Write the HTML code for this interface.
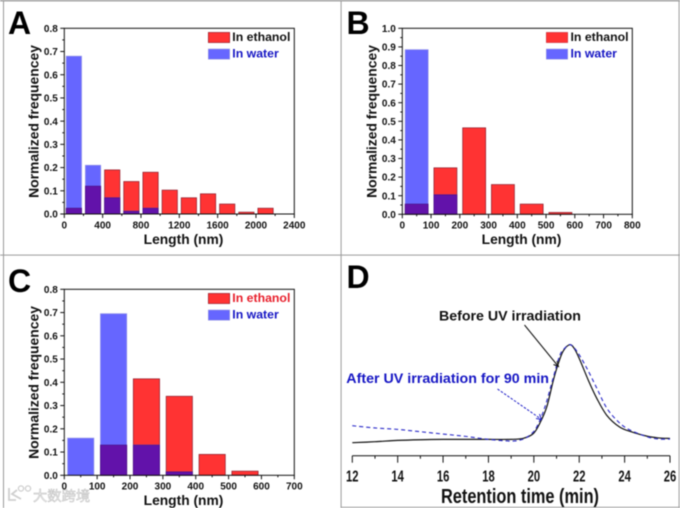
<!DOCTYPE html>
<html lang="en">
<head>
<meta charset="utf-8">
<title>Length distributions and retention time chart</title>
<style>
html,body{margin:0;padding:0;background:#fff;width:680px;height:508px;overflow:hidden}
svg{display:block;filter:blur(.4px)}
text{font-family:"Liberation Sans","Noto Sans CJK SC",sans-serif;font-weight:bold;fill:#111}
</style>
</head>
<body>
<svg id="figure" xmlns="http://www.w3.org/2000/svg" width="680" height="508" viewBox="0 0 680 508">
  <rect width="680" height="508" fill="#fff"/>
  <g fill="#9a9a9a">
    <rect x="0" y="0" width="680" height="1.4"/>
    <rect x="3" y="0" width="1" height="508"/>
    <rect x="340.6" y="0" width="1" height="508"/>
    <rect x="678.6" y="0" width="1" height="508"/>
    <rect x="0" y="254.6" width="680" height="1"/>
    <rect x="341" y="506.8" width="339" height="1"/>
  </g>

  <text x="8" y="34" font-size="32" style="fill:#000">A</text>
  <text x="346.5" y="34" font-size="32" style="fill:#000">B</text>
  <text x="8" y="292" font-size="32" style="fill:#000">C</text>
  <text x="346.5" y="288" font-size="32" style="fill:#000">D</text>

  <g>
    <circle cx="21" cy="488.5" r="2.6" fill="none" stroke="#cfcfcf" stroke-width="1.3"/>
    <circle cx="28" cy="488.5" r="2.6" fill="none" stroke="#cfcfcf" stroke-width="1.3"/>
    <path d="M9 488V500H16M17 490L12 494L21 499" fill="none" stroke="#cfcfcf" stroke-width="1.8"/>
    <text x="33" y="501" font-size="14.3" style="fill:#ececec;font-weight:normal;stroke:#bdbdbd;stroke-width:.45">大数跨境</text>
  </g>

  <g id="panel-a"></g>
  <g id="panel-b"></g>
  <g id="panel-c"></g>
  <g id="panel-d"></g>

  <g>
    <text x="183.5" y="244" font-size="13.8" text-anchor="middle">Length (nm)</text>
    <text transform="translate(38.5,121.5) rotate(-90)" font-size="13.9" text-anchor="middle">Normalized frequencey</text>
    <rect x="208.3" y="32.4" width="21.4" height="10.2" fill="#ff3333" stroke="#8a2030" stroke-width=".6"/>
    <rect x="208.3" y="49" width="21.4" height="10.2" fill="#6666ff" stroke="#9a9ae0" stroke-width=".6"/>
    <text x="232.3" y="41" font-size="12.3">In ethanol</text>
    <text x="232.3" y="57.4" font-size="12.3" style="fill:#1616c4">In water</text>
  </g>

  <g>
    <text x="521.5" y="244" font-size="13.8" text-anchor="middle">Length (nm)</text>
    <text transform="translate(376.5,121.5) rotate(-90)" font-size="13.9" text-anchor="middle">Normalized frequencey</text>
    <rect x="546.3" y="32.4" width="21.4" height="10.2" fill="#ff3333" stroke="#c03040" stroke-width=".5"/>
    <rect x="546.3" y="49" width="21.4" height="10.2" fill="#6666ff" stroke="#9a9ae0" stroke-width=".5"/>
    <text x="570.5" y="41" font-size="12.3">In ethanol</text>
    <text x="570.5" y="57.4" font-size="12.3" style="fill:#1616c4">In water</text>
  </g>

  <g>
    <text x="183.5" y="505" font-size="13.8" text-anchor="middle">Length (nm)</text>
    <text transform="translate(38.5,382.5) rotate(-90)" font-size="13.9" text-anchor="middle">Normalized frequencey</text>
    <rect x="208.3" y="293.4" width="21.4" height="10.2" fill="#ff3333" stroke="#8a2030" stroke-width=".6"/>
    <rect x="208.3" y="310" width="21.4" height="10.2" fill="#6666ff" stroke="#9a9ae0" stroke-width=".6"/>
    <text x="232.3" y="302" font-size="12.3" style="fill:#e8202c">In ethanol</text>
    <text x="232.3" y="318.4" font-size="12.3" style="fill:#1616c4">In water</text>
  </g>

  <g>
    <text x="439" y="320.7" font-size="14.2">Before UV irradiation</text>
    <text x="346.3" y="383.2" font-size="14.25" style="fill:#1616c4">After UV irradiation for 90 min</text>
    <line x1="524.5" y1="325" x2="558" y2="366" stroke="#111" stroke-width="1"/>
    <path d="M553.5 364.5L558.5 366.5L557 361" fill="none" stroke="#111" stroke-width="1"/>
    <line x1="497.5" y1="389" x2="541" y2="419" stroke="#2020c8" stroke-width="1" stroke-dasharray="2.5 1.5"/>
    <path d="M536 418.5L541.5 419.5L539.5 414" fill="none" stroke="#2020c8" stroke-width="1"/>
    <text x="441" y="503" font-size="20" textLength="158" lengthAdjust="spacingAndGlyphs">Retention time (min)</text>
  </g>
</svg>

<script>
// Panel A values
const panelACategories = [100, 300, 500, 700, 900, 1100, 1300, 1500, 1700, 1900, 2100];
const panelAEthanol = [0.025, 0.12, 0.19, 0.14, 0.18, 0.103, 0.07, 0.087, 0.043, 0.008, 0.025];
const panelAWater = [0.68, 0.21, 0.07, 0.012, 0.025, 0, 0, 0, 0, 0, 0];
const panelAXTicks = [0, 400, 800, 1200, 1600, 2000, 2400];
const panelAYTicks = [0, 0.1, 0.2, 0.3, 0.4, 0.5, 0.6, 0.7, 0.8];

// Panel B values
const panelBCategories = [50, 150, 250, 350, 450, 550];
const panelBEthanol = [0.055, 0.25, 0.465, 0.16, 0.055, 0.01];
const panelBWater = [0.885, 0.105, 0, 0, 0, 0];
const panelBXTicks = [0, 100, 200, 300, 400, 500, 600, 700, 800];
const panelBYTicks = [0, 0.1, 0.2, 0.3, 0.4, 0.5, 0.6, 0.7, 0.8, 0.9, 1.0];

// Panel C values
const panelCCategories = [50, 150, 250, 350, 450, 550];
const panelCEthanol = [0, 0.13, 0.415, 0.34, 0.09, 0.018];
const panelCWater = [0.16, 0.695, 0.13, 0.015, 0, 0];
const panelCXTicks = [0, 100, 200, 300, 400, 500, 600, 700];
const panelCYTicks = [0, 0.1, 0.2, 0.3, 0.4, 0.5, 0.6, 0.7, 0.8];

// Panel D values
const beforeTimes = [12, 13, 14, 15, 16, 17, 18, 19, 19.54, 19.98, 20.27, 20.57, 20.86, 21.08, 21.3, 21.59, 21.8, 22.03, 22.4, 22.77, 23.21, 23.77, 24.3, 25, 25.5, 26];
const beforeSignal = [0.117, 0.126, 0.138, 0.144, 0.147, 0.147, 0.147, 0.147, 0.157, 0.2, 0.295, 0.44, 0.68, 0.832, 0.945, 1, 0.96, 0.862, 0.68, 0.518, 0.365, 0.26, 0.215, 0.175, 0.16, 0.155];
const afterTimes = [12, 13, 14, 15, 16, 17, 18, 19, 19.5, 19.85, 20.13, 20.49, 20.85, 21.15, 21.37, 21.6, 21.9, 22.33, 22.77, 23.21, 23.72, 24.2, 25, 25.5, 26];
const afterSignal = [0.27, 0.25, 0.237, 0.216, 0.195, 0.174, 0.147, 0.132, 0.147, 0.19, 0.26, 0.44, 0.7, 0.907, 0.97, 1, 0.94, 0.79, 0.61, 0.43, 0.306, 0.235, 0.17, 0.15, 0.15];
const panelDXTicks = [12, 14, 16, 18, 20, 22, 24, 26];

const SVG_NS = 'http://www.w3.org/2000/svg';

function makeRect(parent, x, y, w, h, fill, stroke) {
  const el = document.createElementNS(SVG_NS, 'rect');
  el.setAttribute('x', x);
  el.setAttribute('y', y);
  el.setAttribute('width', w);
  el.setAttribute('height', h);
  el.setAttribute('fill', fill);
  el.setAttribute('stroke', stroke);
  el.setAttribute('stroke-width', '0.7');
  parent.appendChild(el);
  return el;
}

function makeTick(parent, x1, y1, x2, y2) {
  const el = document.createElementNS(SVG_NS, 'line');
  el.setAttribute('x1', x1);
  el.setAttribute('y1', y1);
  el.setAttribute('x2', x2);
  el.setAttribute('y2', y2);
  el.setAttribute('stroke', '#111');
  el.setAttribute('stroke-width', '1');
  
  
  parent.appendChild(el);
}

function makeLabel(parent, x, y, str, anchor, size) {
  const el = document.createElementNS(SVG_NS, 'text');
  el.setAttribute('x', x);
  el.setAttribute('y', y);
  el.setAttribute('text-anchor', anchor);
  el.setAttribute('font-size', size);
  
  
  el.textContent = str;
  parent.appendChild(el);
  return el;
}

function drawHistogram(id, cats, ethanol, water, xTicks, yTicks, box) {
  const g = document.getElementById(id);
  const xMax = xTicks[xTicks.length - 1];
  const yMax = yTicks[yTicks.length - 1];
  const xScale = function (v) { return box.left + v / xMax * (box.right - box.left); };
  const yScale = function (v) { return box.bottom - v / yMax * (box.bottom - box.top); };
  const step = cats[1] - cats[0];
  const barW = step * 0.8;

  cats.forEach(function (c, i) {
    const x = xScale(c - barW / 2);
    const w = xScale(c + barW / 2) - x;
    const e = ethanol[i];
    const b = water[i];
    if (e > 0) {
      const red = makeRect(g, x, yScale(e), w, box.bottom - yScale(e), '#ff3333', '#8e2030');
      
      
    }
    if (b > 0) {
      const blue = makeRect(g, x, yScale(b), w, box.bottom - yScale(b), '#6666ff', '#9090e8');
      
      
    }
    const overlap = Math.min(e, b);
    if (overlap > 0) {
      const both = makeRect(g, x, yScale(overlap), w, box.bottom - yScale(overlap), '#6212aa', '#4a1088');
      
      
    }
  });

  const frame = makeRect(g, box.left, box.top, box.right - box.left, box.bottom - box.top, 'none', '#111');
  frame.setAttribute('stroke-width', '1');
  
  

  const xGap = xTicks[1] - xTicks[0];
  xTicks.forEach(function (t, i) {
    const x = xScale(t);
    makeTick(g, x, box.bottom, x, box.bottom + 4);
    makeLabel(g, x, box.bottom + 14.3, String(t), 'middle', 10);
    if (i < xTicks.length - 1) {
      const mx = xScale(t + xGap / 2);
      makeTick(g, mx, box.bottom, mx, box.bottom + 2);
    }
  });

  const yGap = yTicks[1] - yTicks[0];
  yTicks.forEach(function (t, i) {
    const y = yScale(t);
    makeTick(g, box.left, y, box.left - 4, y);
    makeLabel(g, box.left - 6.5, y + 3.6, t.toFixed(1), 'end', 10);
    if (i < yTicks.length - 1) {
      const my = yScale(t + yGap / 2);
      makeTick(g, box.left, my, box.left - 2, my);
    }
  });
}

function smoothPath(xs, ys) {
  let d = 'M' + xs[0].toFixed(2) + ' ' + ys[0].toFixed(2);
  for (let i = 0; i < xs.length - 1; i++) {
    const i0 = Math.max(i - 1, 0);
    const i3 = Math.min(i + 2, xs.length - 1);
    const c1x = xs[i] + (xs[i + 1] - xs[i0]) / 6;
    const c1y = ys[i] + (ys[i + 1] - ys[i0]) / 6;
    const c2x = xs[i + 1] - (xs[i3] - xs[i]) / 6;
    const c2y = ys[i + 1] - (ys[i3] - ys[i]) / 6;
    d += 'C' + c1x.toFixed(2) + ' ' + c1y.toFixed(2) + ' ' + c2x.toFixed(2) + ' ' + c2y.toFixed(2) + ' ' + xs[i + 1].toFixed(2) + ' ' + ys[i + 1].toFixed(2);
  }
  return d;
}

function drawChromatogram() {
  const g = document.getElementById('panel-d');
  const left = 352.3, right = 670, axisY = 455.7, peakY = 344.7;
  const xScale = function (t) { return left + (t - 12) / 14 * (right - left); };
  const yScale = function (v) { return axisY - v * (axisY - peakY); };

  const curveBefore = document.createElementNS(SVG_NS, 'path');
  curveBefore.setAttribute('d', smoothPath(beforeTimes.map(xScale), beforeSignal.map(yScale)));
  curveBefore.setAttribute('fill', 'none');
  curveBefore.setAttribute('stroke', '#111');
  curveBefore.setAttribute('stroke-width', '1.2');
  
  
  g.appendChild(curveBefore);

  const curveAfter = document.createElementNS(SVG_NS, 'path');
  curveAfter.setAttribute('d', smoothPath(afterTimes.map(xScale), afterSignal.map(yScale)));
  curveAfter.setAttribute('fill', 'none');
  curveAfter.setAttribute('stroke', '#2a2ac8');
  curveAfter.setAttribute('stroke-width', '1.1');
  curveAfter.setAttribute('stroke-dasharray', '4 3');
  
  
  g.appendChild(curveAfter);

  makeTick(g, left, axisY, right, axisY);
  panelDXTicks.forEach(function (t, i) {
    const x = xScale(t);
    makeTick(g, x, axisY, x, axisY + 7);
    const lab = makeLabel(g, x, axisY + 26, String(t), 'middle', 16);
    lab.setAttribute('textLength', '12.5');
    lab.setAttribute('lengthAdjust', 'spacingAndGlyphs');
    if (i < panelDXTicks.length - 1) {
      const mx = xScale(t + 1);
      makeTick(g, mx, axisY, mx, axisY + 3);
    }
  });
}

drawHistogram('panel-a', panelACategories, panelAEthanol, panelAWater, panelAXTicks, panelAYTicks, { left: 64.3, right: 294.3, top: 28.3, bottom: 214 });
drawHistogram('panel-b', panelBCategories, panelBEthanol, panelBWater, panelBXTicks, panelBYTicks, { left: 402.3, right: 632.3, top: 28.3, bottom: 214.3 });
drawHistogram('panel-c', panelCCategories, panelCEthanol, panelCWater, panelCXTicks, panelCYTicks, { left: 64.3, right: 294.3, top: 289.3, bottom: 475.3 });
drawChromatogram();
</script>
</body>
</html>
